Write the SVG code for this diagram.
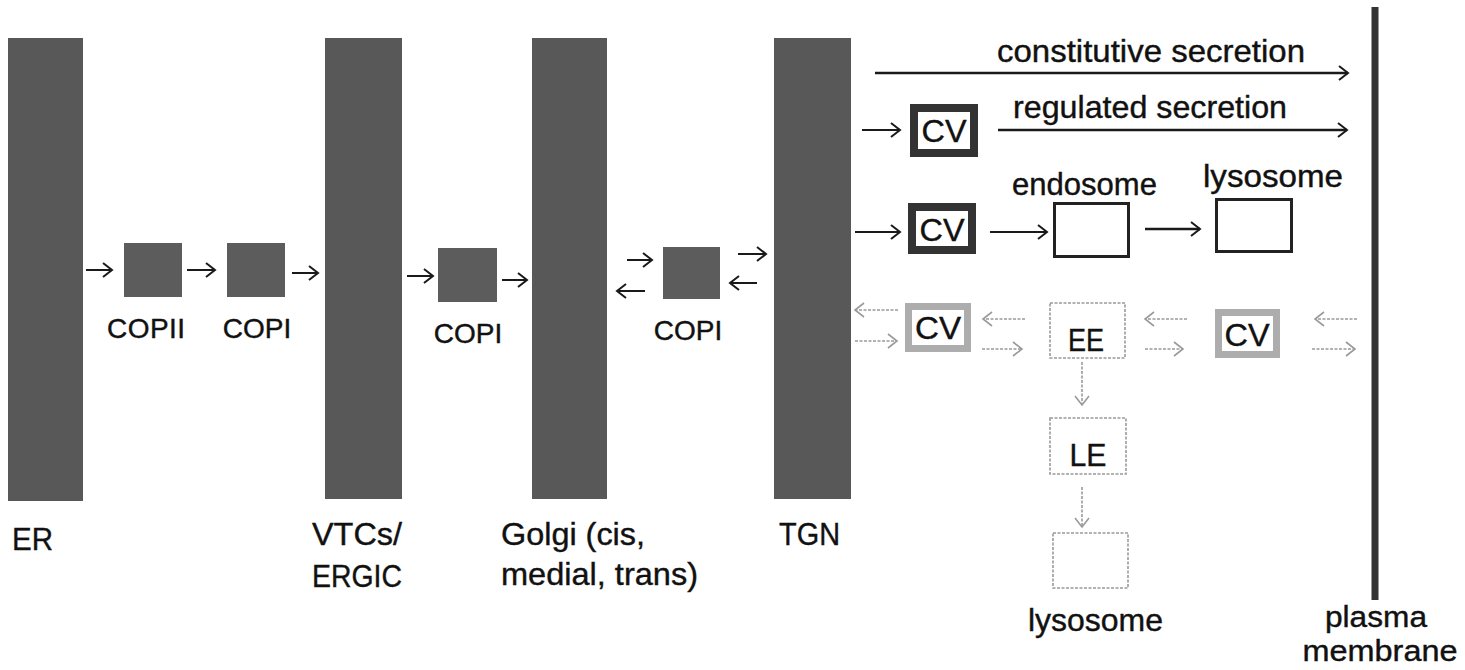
<svg xmlns="http://www.w3.org/2000/svg" width="1465" height="670" viewBox="0 0 1465 670">
  <style>
    .bar { fill: #585858; }
    .sq { fill: #5c5c5c; }
    .lbl { font-family: "Liberation Sans", Arial, sans-serif; font-size: 32px; fill: #111; stroke: #111; stroke-width: 0.4; }
    .cop { font-family: "Liberation Sans", Arial, sans-serif; font-size: 28px; fill: #111; stroke: #111; stroke-width: 0.4; text-anchor: middle; }
    .pm { font-size: 29px; }
    .mid { text-anchor: middle; }
    .arr { stroke: #1a1a1a; stroke-width: 2; fill: none; marker-end: url(#head); }
    .arrb { stroke: #1a1a1a; stroke-width: 2.5; fill: none; marker-end: url(#head); }
    .garr { stroke: #9a9a9a; stroke-width: 1.6; stroke-dasharray: 3 1.5; fill: none; marker-end: url(#ghead); }
    .cvd { fill: #fff; stroke: #333; stroke-width: 8; }
    .cvg { fill: #fff; stroke: #adadad; stroke-width: 7; }
    .box { fill: #fff; stroke: #222; stroke-width: 3; }
    .gbox { fill: #fff; stroke: #9a9a9a; stroke-width: 1.6; stroke-dasharray: 3 1.5; }
  </style>
  <defs>
    <marker id="head" viewBox="-12 -9 14 18" refX="0" refY="0" markerWidth="14" markerHeight="18" markerUnits="userSpaceOnUse" orient="auto">
      <path d="M-9,-7 L0,0 L-9,7" fill="none" stroke="#1a1a1a" stroke-width="2"/>
    </marker>
    <marker id="ghead" viewBox="-12 -9 14 18" refX="0" refY="0" markerWidth="14" markerHeight="18" markerUnits="userSpaceOnUse" orient="auto">
      <path d="M-9,-7 L0,0 L-9,7" fill="none" stroke="#9a9a9a" stroke-width="1.6"/>
    </marker>
  </defs>
  <rect width="1465" height="670" fill="#fff"/>

  <g id="er">
    <rect class="bar" x="8" y="38" width="75" height="463"/>
    <text class="lbl" x="12" y="550" textLength="41" lengthAdjust="spacingAndGlyphs">ER</text>
  </g>
  <g id="copii">
    <rect class="sq" x="124" y="243" width="58" height="54"/>
    <text class="cop" x="146" y="338" textLength="78">COPII</text>
  </g>
  <g id="copi1">
    <rect class="sq" x="227" y="243" width="58" height="54"/>
    <text class="cop" x="257" y="338">COPI</text>
  </g>
  <g id="vtcs">
    <rect class="bar" x="325" y="38" width="77" height="461"/>
    <text class="lbl" x="312" y="545" textLength="90" lengthAdjust="spacingAndGlyphs">VTCs/</text>
    <text class="lbl" x="312" y="587" textLength="90" lengthAdjust="spacingAndGlyphs">ERGIC</text>
  </g>
  <g id="copi2">
    <rect class="sq" x="438" y="248" width="59" height="54"/>
    <text class="cop" x="468" y="343">COPI</text>
  </g>
  <g id="golgi">
    <rect class="bar" x="532" y="38" width="75" height="461"/>
    <text class="lbl" x="501" y="545" textLength="144" lengthAdjust="spacingAndGlyphs">Golgi (cis,</text>
    <text class="lbl" x="501" y="585" textLength="197" lengthAdjust="spacingAndGlyphs">medial, trans)</text>
  </g>
  <g id="copi3">
    <rect class="sq" x="663" y="247" width="57" height="52"/>
    <text class="cop" x="688" y="340">COPI</text>
  </g>
  <g id="tgn">
    <rect class="bar" x="774" y="38" width="77" height="461"/>
    <text class="lbl" x="779" y="545" textLength="61" lengthAdjust="spacingAndGlyphs">TGN</text>
  </g>

  <g id="cv1">
    <rect class="cvd" x="914" y="108" width="60" height="45"/>
    <text class="lbl mid" x="944" y="142" textLength="45" lengthAdjust="spacingAndGlyphs">CV</text>
  </g>
  <g id="cv2">
    <rect class="cvd" x="912" y="207" width="60" height="43"/>
    <text class="lbl mid" x="942" y="241" textLength="45" lengthAdjust="spacingAndGlyphs">CV</text>
  </g>
  <g id="endosome">
    <rect class="box" x="1054.5" y="203.5" width="74" height="53"/>
    <text class="lbl" x="1012" y="195" textLength="145" lengthAdjust="spacingAndGlyphs">endosome</text>
  </g>
  <g id="lysosome-top">
    <rect class="box" x="1216.5" y="199.5" width="75" height="52"/>
    <text class="lbl" x="1203" y="187" textLength="140" lengthAdjust="spacingAndGlyphs">lysosome</text>
  </g>
  <g id="cv3">
    <rect class="cvg" x="908.5" y="306.5" width="59" height="42"/>
    <text class="lbl mid" x="938" y="339" textLength="46" lengthAdjust="spacingAndGlyphs">CV</text>
  </g>
  <g id="ee">
    <rect class="gbox" x="1050" y="303" width="75" height="55"/>
    <text class="lbl mid" x="1086" y="351" textLength="36" lengthAdjust="spacingAndGlyphs">EE</text>
  </g>
  <g id="cv4">
    <rect class="cvg" x="1218.5" y="312.5" width="58" height="42"/>
    <text class="lbl mid" x="1247" y="346" textLength="45" lengthAdjust="spacingAndGlyphs">CV</text>
  </g>
  <g id="le">
    <rect class="gbox" x="1050" y="418" width="76" height="56"/>
    <text class="lbl mid" x="1088" y="466" textLength="37" lengthAdjust="spacingAndGlyphs">LE</text>
  </g>
  <g id="lysosome-bottom">
    <rect class="gbox" x="1053" y="533" width="75" height="55"/>
    <text class="lbl" x="1028" y="631" textLength="135" lengthAdjust="spacingAndGlyphs">lysosome</text>
  </g>
  <g id="plasma-membrane">
    <line x1="1375" y1="7" x2="1375" y2="600" stroke="#333" stroke-width="7"/>
    <text class="lbl pm mid" x="1376" y="627" textLength="102" lengthAdjust="spacingAndGlyphs">plasma</text>
    <text class="lbl pm mid" x="1380" y="661" textLength="155" lengthAdjust="spacingAndGlyphs">membrane</text>
  </g>

  <g id="secretion-labels">
    <text class="lbl" x="997" y="62" textLength="308" lengthAdjust="spacingAndGlyphs">constitutive secretion</text>
    <text class="lbl" x="1013" y="118" textLength="274" lengthAdjust="spacingAndGlyphs">regulated secretion</text>
  </g>

  <g id="connectors">
    <line class="arr" x1="86" y1="270" x2="112" y2="270"/>
    <line class="arr" x1="187" y1="270" x2="215" y2="270"/>
    <line class="arr" x1="292" y1="273" x2="318" y2="273"/>
    <line class="arr" x1="407" y1="276" x2="433" y2="276"/>
    <line class="arr" x1="502" y1="280" x2="527" y2="280"/>
    <line class="arr" x1="627" y1="260" x2="652" y2="260"/>
    <line class="arr" x1="645" y1="291" x2="617" y2="291"/>
    <line class="arr" x1="738" y1="254" x2="766" y2="254"/>
    <line class="arr" x1="757" y1="283" x2="730" y2="283"/>

    <line class="arrb" x1="875" y1="73" x2="1348" y2="73"/>
    <line class="arr" x1="862" y1="130" x2="900" y2="130"/>
    <line class="arrb" x1="998" y1="130" x2="1347" y2="130"/>
    <line class="arr" x1="855" y1="232" x2="900" y2="232"/>
    <line class="arr" x1="990" y1="232" x2="1047" y2="232"/>
    <line class="arrb" x1="1145" y1="229" x2="1200" y2="229" stroke-width="3"/>

    <line class="garr" x1="898" y1="310" x2="855" y2="310"/>
    <line class="garr" x1="855" y1="341" x2="897" y2="341"/>
    <line class="garr" x1="1025" y1="319" x2="983" y2="319"/>
    <line class="garr" x1="982" y1="349" x2="1022" y2="349"/>
    <line class="garr" x1="1187" y1="319" x2="1145" y2="319"/>
    <line class="garr" x1="1145" y1="349" x2="1183" y2="349"/>
    <line class="garr" x1="1357" y1="319" x2="1315" y2="319"/>
    <line class="garr" x1="1312" y1="349" x2="1355" y2="349"/>
    <line class="garr" x1="1082" y1="362" x2="1082" y2="405"/>
    <line class="garr" x1="1082" y1="487" x2="1082" y2="527"/>
  </g>
</svg>
